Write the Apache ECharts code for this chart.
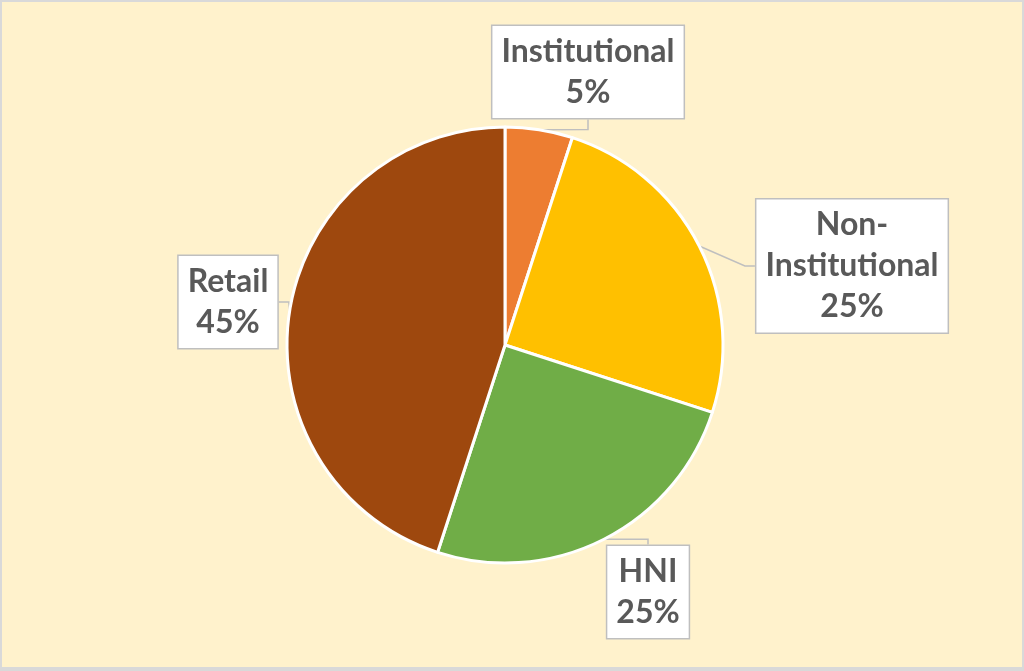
<!DOCTYPE html>
<html>
<head>
<meta charset="utf-8">
<script src="https://cdn.jsdelivr.net/npm/echarts@6/dist/echarts.min.js"></script>
<style>
html,body{margin:0;padding:0;background:#D9D9D9;}
#frame{position:absolute;left:0;top:0;width:1024px;height:671px;box-sizing:border-box;border-style:solid;border-color:#D9D9D9;border-width:2px 2px 4px 2px;background:#FFF2CC;}
#chart{width:100%;height:100%;}
</style>
</head>
<body>
<div id="frame"><div id="chart"></div></div>
<script>
var categories = ['Institutional', 'Non-Institutional', 'HNI', 'Retail'];
var values = [5, 25, 25, 45];
var colors = ['#ED7D31', '#FFC000', '#70AD47', '#9E480E'];
// label box centres (layout only), in chart pixel coordinates
var labelCentres = {
  'Institutional': [586, 70],
  'Non-Institutional': [850, 264],
  'HNI': [646, 590],
  'Retail': [226, 300]
};

var chart = echarts.init(document.getElementById('chart'));
chart.setOption({
  backgroundColor: 'transparent',
  series: [{
    type: 'pie',
    center: [503, 343],
    radius: 218,
    startAngle: 90,
    clockwise: true,
    silent: true,
    animation: false,
    itemStyle: { borderColor: '#FFFFFF', borderWidth: 3 },
    label: {
      show: true,
      position: 'outside',
      formatter: function (p) {
        return p.name.replace('Non-', 'Non-\n') + '\n' + p.value + '%';
      },
      fontFamily: 'Lato, "Open Sans", sans-serif',
      fontWeight: 'bold',
      fontSize: 32,
      lineHeight: 41,
      color: '#595959',
      align: 'center',
      backgroundColor: '#FFFFFF',
      borderColor: '#BFBFBF',
      borderWidth: 1.5,
      padding: [5, 9, 5, 9]
    },
    labelLine: {
      show: true,
      length: 20,
      length2: 10,
      lineStyle: { color: '#BFBFBF', width: 1.5 }
    },
    labelLayout: function (p) {
      var key = String(p.text).replace(/\n/g, '').replace(/\d+%$/, '');
      var c = labelCentres[key] || [p.labelRect.x, p.labelRect.y];
      return {
        x: c[0],
        y: c[1],
        align: 'center',
        verticalAlign: 'middle'
      };
    },
    data: categories.map(function (n, i) {
      return { name: n, value: values[i], itemStyle: { color: colors[i] } };
    })
  }]
});
</script>
</body>
</html>
